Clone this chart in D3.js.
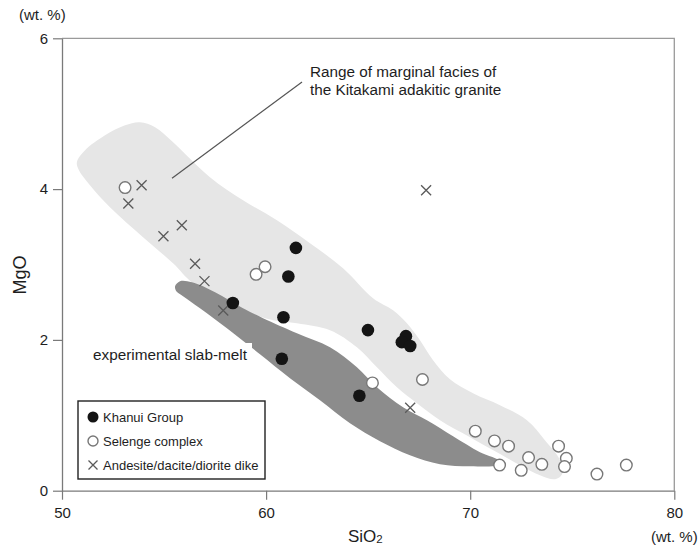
<!DOCTYPE html>
<html>
<head>
<meta charset="utf-8">
<script src="https://cdn.jsdelivr.net/npm/d3@7"></script>
<style>
  html, body { margin: 0; padding: 0; background: #fff; }
  svg { display: block; font-family: "Liberation Sans", Arial, Helvetica, sans-serif; }
</style>
</head>
<body>
<svg id="chart" width="700" height="547"></svg>
<script>
// ---- Data (SiO2 wt.%, MgO wt.%) ----
const xTicks = [50, 60, 70, 80];
const yTicks = [0, 2, 4, 6];

const khanuiGroup = [
  [58.37, 2.49], [61.46, 3.22], [61.09, 2.84], [60.85, 2.30], [60.77, 1.75],
  [64.99, 2.13], [64.57, 1.26], [66.85, 2.05], [66.65, 1.97], [67.06, 1.92]
];

const selengeComplex = [
  [53.09, 4.02], [59.51, 2.87], [59.95, 2.97], [65.21, 1.43], [67.66, 1.475],
  [70.25, 0.79], [71.19, 0.66], [71.88, 0.59], [74.33, 0.59], [71.44, 0.34],
  [72.50, 0.27], [72.86, 0.44], [73.51, 0.35], [74.71, 0.43], [74.62, 0.32],
  [76.21, 0.22], [77.65, 0.34]
];

const dikes = [
  [53.90, 4.05], [53.25, 3.81], [55.87, 3.52], [54.97, 3.375], [56.52, 3.01],
  [56.98, 2.78], [57.90, 2.39], [67.84, 3.985], [67.06, 1.10]
];

// Range of marginal facies of the Kitakami adakitic granite (outline)
const kitakamiRange = [
  [50.73, 4.357], [51.13, 4.516], [52.11, 4.715], [53.09, 4.847], [53.82, 4.887],
  [54.56, 4.821], [55.39, 4.635], [57.25, 4.158], [58.87, 3.853], [60.53, 3.587],
  [62.15, 3.282], [63.77, 2.951], [65.24, 2.553], [66.22, 2.394], [66.90, 2.221],
  [67.54, 1.996], [68.18, 1.731], [69.01, 1.479], [70.14, 1.293], [71.46, 1.134],
  [72.78, 0.935], [73.66, 0.670], [74.40, 0.405], [74.50, 0.219], [74.16, 0.153],
  [73.42, 0.206], [72.44, 0.338], [71.31, 0.511], [69.99, 0.710], [68.52, 0.935],
  [67.39, 1.160], [66.41, 1.373], [65.43, 1.638], [64.45, 1.903], [63.13, 2.129],
  [61.51, 2.221], [59.95, 2.288], [57.99, 2.527], [56.42, 2.752], [55.44, 3.017],
  [53.97, 3.362], [52.35, 3.760], [51.37, 4.052], [50.83, 4.250]
];

// Experimental slab-melt field (outline)
const slabMelt = [
  [55.54, 2.712], [55.78, 2.779], [56.37, 2.765], [57.50, 2.633], [58.87, 2.420],
  [59.85, 2.288], [61.51, 2.089], [63.13, 1.903], [64.45, 1.638], [65.43, 1.373],
  [66.71, 1.107], [67.88, 0.935], [69.16, 0.723], [70.48, 0.511], [71.46, 0.391],
  [71.31, 0.338], [69.99, 0.325], [68.52, 0.352], [67.05, 0.471], [65.58, 0.657],
  [64.11, 0.895], [62.64, 1.200], [61.17, 1.492], [59.70, 1.810], [58.08, 2.155],
  [56.76, 2.420], [55.93, 2.580], [55.59, 2.650]
];

// Leader line for the Kitakami range annotation
const leader = [[61.76, 5.42], [55.39, 4.145]];

const legendItems = ["Khanui Group", "Selenge complex", "Andesite/dacite/diorite dike"];

// ---- Layout ----
const svg = d3.select("#chart");
const x = d3.scaleLinear().domain([50, 80]).range([62, 674.3]);
const y = d3.scaleLinear().domain([0, 6]).range([490.7, 38.3]);

const textColor = "#1e1e1e";
const axisColor = "#7a7a7a";

// Fields
const area = d3.line().x(d => x(d[0])).y(d => y(d[1])).curve(d3.curveCatmullRomClosed.alpha(0.5));
svg.append("path").attr("d", area(kitakamiRange)).attr("fill", "#e6e6e6");
svg.append("path").attr("d", area(slabMelt)).attr("fill", "#8c8c8c");

// Frame (top and right)
svg.append("path")
  .attr("d", `M${x(50)},${y(6)}H${x(80)}V${y(0)}`)
  .attr("fill", "none").attr("stroke", "#9a9a9a").attr("stroke-width", 1.3);

// Axes
const fmt = d3.format("d");
const yAxis = d3.axisLeft(y).tickValues(yTicks).tickFormat(fmt).tickSize(9).tickPadding(5).tickSizeOuter(0);
const xAxis = d3.axisBottom(x).tickValues(xTicks).tickFormat(fmt).tickSize(9).tickPadding(8).tickSizeOuter(0);

const gy = svg.append("g").attr("transform", `translate(${x(50)},0)`).call(yAxis);
const gx = svg.append("g").attr("transform", `translate(0,${y(0)})`).call(xAxis);
[gx, gy].forEach(g => {
  g.attr("font-size", null).attr("font-family", null);
  g.select(".domain").attr("stroke", axisColor).attr("stroke-width", 1.3);
  g.selectAll(".tick line").attr("stroke", axisColor).attr("stroke-width", 1.2);
  g.selectAll(".tick text").attr("fill", textColor).style("font-size", "15px");
});

// Axis titles
svg.append("text").attr("x", 19).attr("y", 20).attr("font-size", 15).attr("fill", textColor).text("(wt. %)");
svg.append("text").attr("transform", "translate(26,275) rotate(-90)").attr("text-anchor", "middle")
  .attr("font-size", 18).attr("fill", textColor).text("MgO");
const sx = svg.append("text").attr("x", 348).attr("y", 542).attr("font-size", 17).attr("fill", textColor);
sx.append("tspan").text("SiO");
sx.append("tspan").attr("font-size", 11.5).attr("dy", 1).text("2");
svg.append("text").attr("x", 651).attr("y", 542).attr("font-size", 15).attr("fill", textColor).text("(wt. %)");

// Annotation for the Kitakami range
svg.append("line")
  .attr("x1", x(leader[0][0])).attr("y1", y(leader[0][1]))
  .attr("x2", x(leader[1][0])).attr("y2", y(leader[1][1]))
  .attr("stroke", "#555").attr("stroke-width", 1.2);
const ann = svg.append("text").attr("font-size", 15.3).attr("fill", textColor);
ann.append("tspan").attr("x", 310).attr("y", 77).text("Range of marginal facies of");
ann.append("tspan").attr("x", 310).attr("y", 95).text("the Kitakami adakitic granite");

// Slab-melt label on a white box
svg.append("rect").attr("x", 90).attr("y", 343).attr("width", 162).attr("height", 22).attr("fill", "#fff");
svg.append("text").attr("x", 93).attr("y", 359.5).attr("font-size", 15.3).attr("fill", textColor).text("experimental slab-melt");

// Marker drawing helpers
function drawFilled(g, cx, cy, r) {
  g.append("circle").attr("cx", cx).attr("cy", cy).attr("r", r).attr("fill", "#141414");
}
function drawOpen(g, cx, cy, r) {
  g.append("circle").attr("cx", cx).attr("cy", cy).attr("r", r)
    .attr("fill", "#fff").attr("stroke", "#777").attr("stroke-width", 1.4);
}
function drawCross(g, cx, cy, s) {
  g.append("path").attr("d", `M${cx - s},${cy - s}L${cx + s},${cy + s}M${cx - s},${cy + s}L${cx + s},${cy - s}`)
    .attr("stroke", "#5a5a5a").attr("stroke-width", 1.3).attr("fill", "none");
}

const marks = svg.append("g");
dikes.forEach(d => drawCross(marks, x(d[0]), y(d[1]), 5));
selengeComplex.forEach(d => drawOpen(marks, x(d[0]), y(d[1]), 5.8));
khanuiGroup.forEach(d => drawFilled(marks, x(d[0]), y(d[1]), 6.3));

// Legend
const lg = svg.append("g");
lg.append("rect").attr("x", 78).attr("y", 401).attr("width", 187).attr("height", 78)
  .attr("fill", "#fff").attr("stroke", "#222").attr("stroke-width", 1.4);
legendItems.forEach((label, i) => {
  const cy = 417 + i * 24;
  if (i === 0) drawFilled(lg, 93, cy, 5.5);
  if (i === 1) drawOpen(lg, 93, cy, 5);
  if (i === 2) drawCross(lg, 93, cy, 4.5);
  lg.append("text").attr("x", 103).attr("y", cy + 4.5).attr("font-size", 13).attr("fill", textColor).text(label);
});
</script>
</body>
</html>
